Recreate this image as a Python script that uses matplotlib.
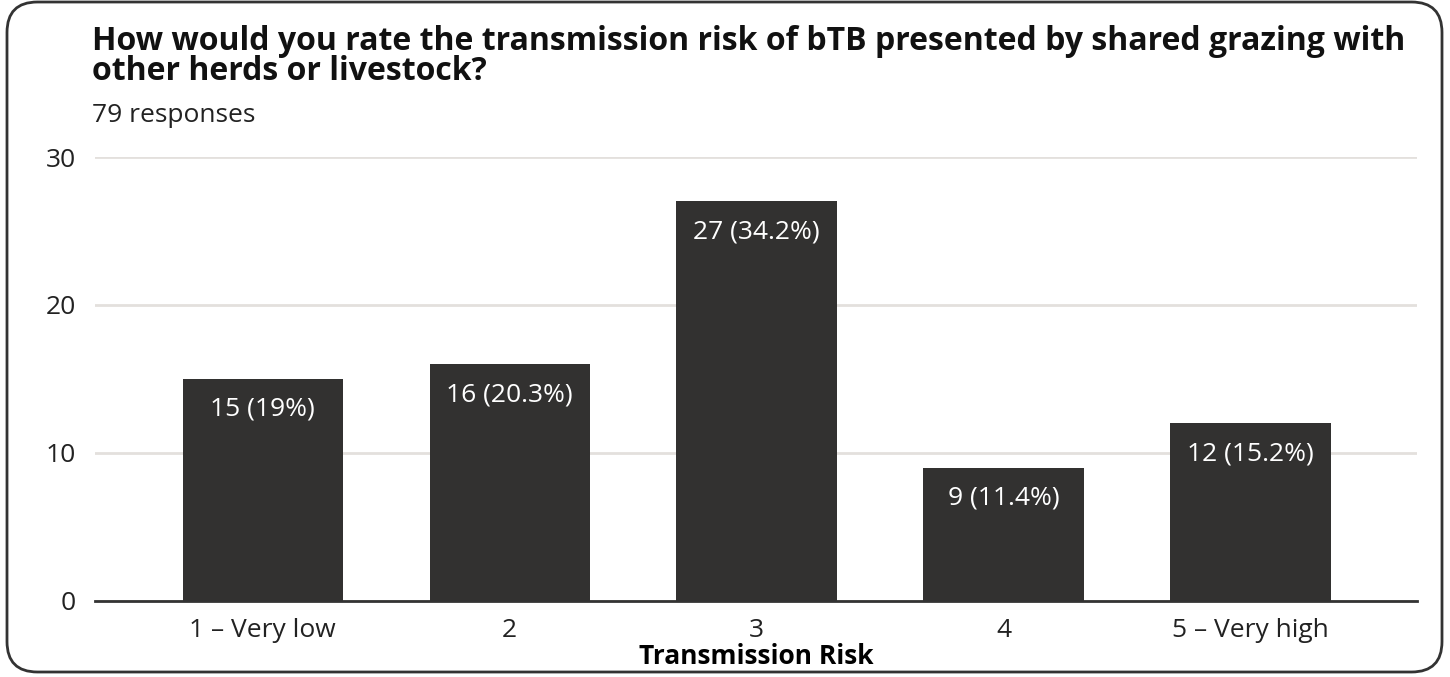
import matplotlib.pyplot as plt
from matplotlib.patches import FancyBboxPatch

plt.rcParams['font.family'] = ['Open Sans', 'DejaVu Sans']

# dados
categorias = ['1 – Very low', '2', '3', '4', '5 – Very high']
contagens = [15, 16, 27, 9, 12]
rotulos = ['15 (19%)', '16 (20.3%)', '27 (34.2%)', '9 (11.4%)', '12 (15.2%)']
titulo = 'How would you rate the transmission risk of bTB presented by shared grazing with\nother herds or livestock?'
subtitulo = '79 responses'

W, H = 1450, 677
fig = plt.figure(figsize=(W / 100, H / 100), dpi=100)

# moldura arredondada
moldura = FancyBboxPatch((7 / W, 5 / H), 1435 / W, 670 / H,
                         boxstyle='round,pad=0,rounding_size=0.021',
                         mutation_aspect=W / H, transform=fig.transFigure,
                         facecolor='none', edgecolor='#333333', linewidth=2, zorder=10)
fig.patches.append(moldura)

ax = fig.add_axes([95 / W, 1 - 601 / H, (1417 - 95) / W, (601 - 157) / H])
x = range(len(categorias))
ax.bar(x, contagens, width=0.65, color='#323130', zorder=3)

for i, (v, r) in enumerate(zip(contagens, rotulos)):
    ax.text(i, v - 2.05, r, ha='center', va='center', color='white', fontsize=19, zorder=4)

ax.set_xlim(-0.68, 4.675)
ax.set_ylim(0, 30)
ax.set_yticks([0, 10, 20, 30])
ax.set_xticks(list(x))
ax.set_xticklabels(categorias)
ax.tick_params(axis='both', length=0, labelsize=19, colors='#222222')
ax.tick_params(axis='y', pad=14)
ax.tick_params(axis='x', pad=12)
ax.grid(axis='y', color='#e3e0dd', linewidth=2, zorder=0)
for s in ['top', 'right', 'left']:
    ax.spines[s].set_visible(False)
ax.spines['bottom'].set_color('#333333')
ax.spines['bottom'].set_linewidth(2)
ax.spines['bottom'].set_zorder(5)
ax.set_xlabel('Transmission Risk', fontsize=19, fontweight='bold', labelpad=0)

linhas = titulo.split('\n')
fig.text(92 / W, 1 - 50 / H, linhas[0], ha='left', va='baseline', fontsize=23,
         fontweight='bold', color='#111111')
fig.text(92 / W, 1 - 80 / H, linhas[1], ha='left', va='baseline', fontsize=23,
         fontweight='bold', color='#111111')
fig.text(92 / W, 1 - 122 / H, subtitulo, ha='left', va='baseline', fontsize=19, color='#222222')

fig.savefig('out.png', dpi=100)
